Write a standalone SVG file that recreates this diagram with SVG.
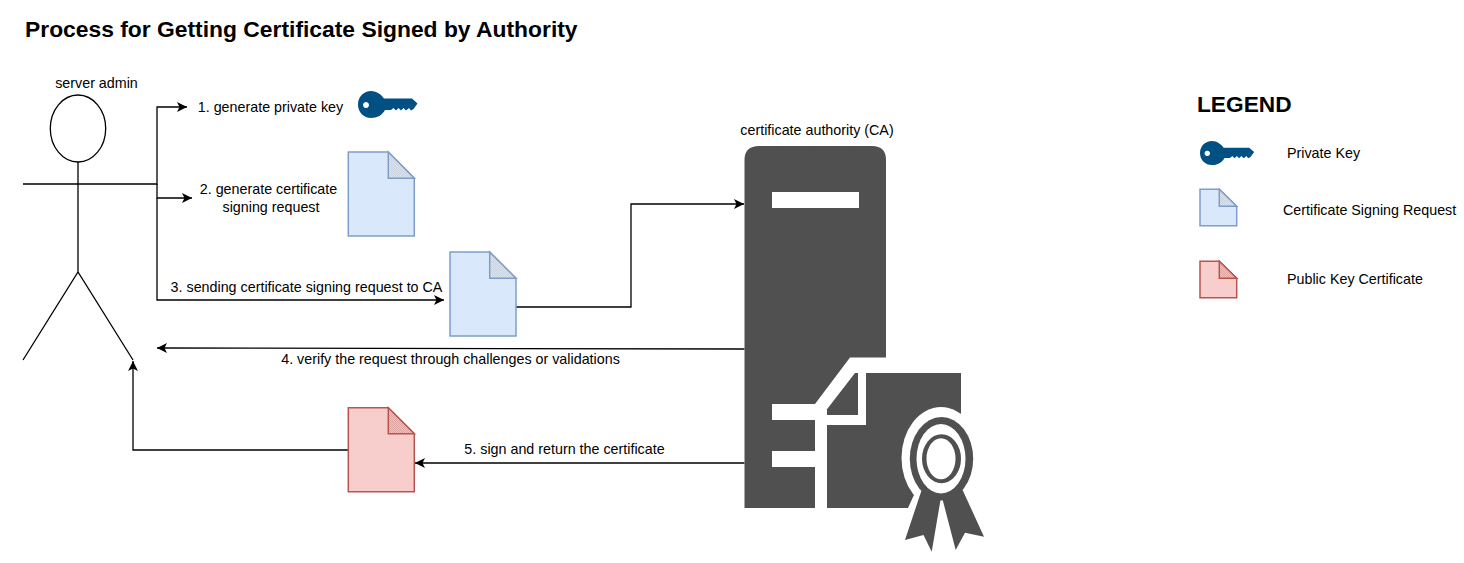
<svg xmlns="http://www.w3.org/2000/svg" width="1464" height="563" viewBox="0 0 1464 563">
<style>
text{font-family:"Liberation Sans",Arial,sans-serif;font-size:14.3px;fill:#000}
.m{text-anchor:middle}
.title{font-size:22.85px;font-weight:bold}
.legend{font-size:22.7px;font-weight:bold}
.ln{fill:none;stroke:#000;stroke-width:1.3}
.act{fill:none;stroke:#000;stroke-width:1.3}
.dk{fill:#505050}
.wh{fill:#fff}
.blue{fill:#dae8fc;stroke:#7e9dc9;stroke-width:1.5}
.bluef{fill:url(#hb);stroke:#7e9dc9;stroke-width:1.5}
.red{fill:#f8cecc;stroke:#b85450;stroke-width:1.5}
.redf{fill:url(#hr);stroke:#b85450;stroke-width:1.5}
.key{fill:#005083}
</style>
<defs>
<pattern id="hb" width="2" height="2" patternUnits="userSpaceOnUse"><rect width="2" height="2" fill="#dbe4f0"/><rect width="1" height="1" fill="#c9d1dc"/><rect x="1" y="1" width="1" height="1" fill="#c9d1dc"/></pattern>
<pattern id="hr" width="2" height="2" patternUnits="userSpaceOnUse"><rect width="2" height="2" fill="#f2c0bd"/><rect width="1" height="1" fill="#dda5a2"/><rect x="1" y="1" width="1" height="1" fill="#dda5a2"/></pattern>
<marker id="a" viewBox="0 0 10 10" refX="10" refY="5" markerWidth="11" markerHeight="10" markerUnits="userSpaceOnUse" orient="auto"><path d="M0,0 L10,5 L0,10 L2.5,5 Z" fill="#000"/></marker>
<g id="k">
<path class="key" fill-rule="evenodd" d="M358,104.500 C358,96.500 364,91 371,91 C377,91 381.500,95 384,98.500 H412 L417.500,103.500 L413.500,109 L411,110.500 L409,108 L406,110.500 L403.500,108 L401,110.500 L398.500,108 L396,110.500 L393.500,108 L391,110 L385,110 C382.500,115 377,118 371,118 C364,118 358,112.500 358,104.500 Z M366,101.900 a3,3 0 1 0 0.010,0 Z"/>
</g>
</defs>
<text class="title" x="25" y="37">Process for Getting Certificate Signed by Authority</text>

<g id="admin">
<ellipse class="act" cx="78" cy="128.500" rx="27.700" ry="33.500"/>
<path class="act" d="M78,162 V272 M23,184 H133 M23,360 L78,272 L133,360"/>
<text class="m" x="96.500" y="88">server admin</text>
</g>

<g id="connectors">
<path class="ln" d="M133,184 H157 V107 H187" marker-end="url(#a)"/>
<path class="ln" d="M157,184 V198 H192" marker-end="url(#a)"/>
<path class="ln" d="M157,198 V300 H444" marker-end="url(#a)"/>
<path class="ln" d="M516,307 H631 V204 H744" marker-end="url(#a)"/>
<path class="ln" d="M744.500,349 L157,348" marker-end="url(#a)"/>
<path class="ln" d="M744.500,463 H415" marker-end="url(#a)"/>
<path class="ln" d="M348,450 H133 V361" marker-end="url(#a)"/>
</g>

<g id="step1"><text class="m" x="270.500" y="112">1. generate private key</text></g>
<g id="key1"><use href="#k"/></g>
<g id="step2"><text class="m" x="268.500" y="194">2. generate certificate</text><text class="m" x="271" y="212">signing request</text></g>
<g id="csr1">
<path class="blue" d="M348.300,152 H388.300 L414.300,178.300 V236 H348.300 Z"/>
<path class="bluef" d="M388.300,152 V178.300 H414.300 Z"/>
</g>
<g id="step3"><text class="m" x="306.500" y="292">3. sending certificate signing request to CA</text></g>
<g id="csr2">
<path class="blue" d="M450,252 H489.700 L516,278.300 V336 H450 Z"/>
<path class="bluef" d="M489.700,252 V278.300 H516 Z"/>
</g>
<g id="step4"><text class="m" x="450.500" y="364">4. verify the request through challenges or validations</text></g>
<g id="step5"><text class="m" x="564.500" y="454">5. sign and return the certificate</text></g>
<g id="cert">
<path class="red" d="M348.300,407.700 H388.300 L414.300,433.700 V491.700 H348.300 Z"/>
<path class="redf" d="M388.300,407.700 V433.700 H414.300 Z"/>
</g>

<g id="ca">
<text class="m" x="817" y="135">certificate authority (CA)</text>
<path class="dk" d="M759,146 H872 Q886,146 886,160 V357.500 H850 L815,404 H772 V420 H815 V451 H772 V467 H815 V508 H744.500 V160 Q744.500,146 759,146 Z"/>
<rect class="wh" x="772" y="192" width="87" height="16"/>
<path class="dk" d="M827,409.300 L855,373 H858 V415 H827 Z"/>
<path class="dk" d="M827,425 H866 V373 H961 V413 L937,450 L913,497 L908,508 H827 Z"/>
<ellipse class="wh" cx="941" cy="458" rx="39.500" ry="51"/>
<path class="dk" d="M925,480 L905,540 L923.500,535 L931.700,551.700 L940.500,500 L942.700,500 L955.700,550 L965,532.700 L984,536.700 L958,480 Z"/>
<ellipse class="dk" cx="941.500" cy="458.700" rx="31.700" ry="41.700"/>
<ellipse class="wh" cx="941" cy="458.700" rx="24.500" ry="34.700"/>
<ellipse class="dk" cx="941.500" cy="458.700" rx="19.500" ry="24.500"/>
<ellipse class="wh" cx="941" cy="458.700" rx="14.500" ry="20.500"/>
</g>

<g id="legend">
<text class="legend" x="1197" y="112">LEGEND</text>
<g id="legend-key"><use href="#k" transform="translate(1200 153) scale(0.91 0.89) translate(-358 -104.500)"/><text x="1287" y="158">Private Key</text></g>
<g id="legend-csr">
<path class="blue" d="M1200,189.300 H1219.300 L1236.700,206.300 V225.700 H1200 Z"/>
<path class="bluef" d="M1219.300,189.300 V206.300 H1236.700 Z"/>
<text x="1283" y="215">Certificate Signing Request</text>
</g>
<g id="legend-cert">
<path class="red" d="M1200,261.300 H1219.300 L1236.700,278.300 V297.700 H1200 Z"/>
<path class="redf" d="M1219.300,261.300 V278.300 H1236.700 Z"/>
<text x="1287" y="284">Public Key Certificate</text>
</g>
</g>
</svg>
